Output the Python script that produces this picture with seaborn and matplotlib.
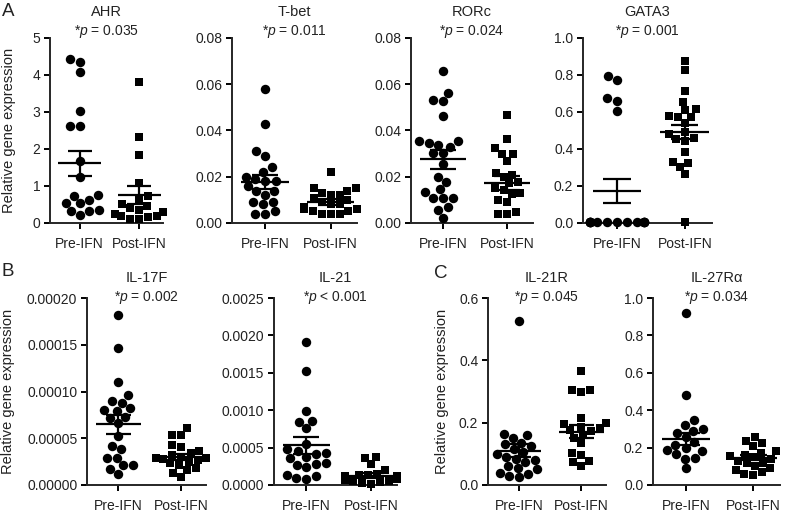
import numpy as np
import pandas as pd
import seaborn as sns
import matplotlib.pyplot as plt
import warnings
warnings.filterwarnings("ignore")

groups = ['Pre-IFN', 'Post-IFN']

genes = ['AHR', 'T-bet', 'RORc', 'GATA3', 'IL-17F', 'IL-21', 'IL-21R', 'IL-27R\u03b1']
pvals = ['= 0.035', '= 0.011', '= 0.024', '= 0.001', '= 0.002', '< 0.001', '= 0.045', '= 0.034']
ymax = [5, 0.08, 0.08, 1.0, 0.0002, 0.0025, 0.6, 1.0]
yticks = [
    [0, 1, 2, 3, 4, 5],
    [0.00, 0.02, 0.04, 0.06, 0.08],
    [0.00, 0.02, 0.04, 0.06, 0.08],
    [0.0, 0.2, 0.4, 0.6, 0.8, 1.0],
    [0.0, 0.00005, 0.0001, 0.00015, 0.0002],
    [0.0, 0.0005, 0.001, 0.0015, 0.002, 0.0025],
    [0.0, 0.2, 0.4, 0.6],
    [0.0, 0.2, 0.4, 0.6, 0.8, 1.0],
]
ytick_fmt = ['{:.0f}', '{:.2f}', '{:.2f}', '{:.1f}', '{:.5f}', '{:.4f}', '{:.1f}', '{:.1f}']

# individual values
pre_ahr = [4.42, 4.35, 4.07, 3.02, 2.62, 2.62, 1.68, 1.25, 0.75, 0.73, 0.62, 0.55, 0.53, 0.35, 0.33, 0.33, 0.22]
post_ahr = [3.8, 2.33, 1.85, 1.08, 0.72, 0.65, 0.5, 0.45, 0.4, 0.35, 0.3, 0.25, 0.2, 0.18, 0.15, 0.12, 0.1]
pre_tbet = [0.058, 0.043, 0.031, 0.029, 0.024, 0.022, 0.02, 0.019, 0.018, 0.018, 0.016, 0.014, 0.014,
            0.012, 0.009, 0.009, 0.008, 0.005, 0.004, 0.004]
post_tbet = [0.022, 0.015, 0.015, 0.014, 0.013, 0.012, 0.012, 0.011, 0.010, 0.009, 0.008, 0.008, 0.007,
             0.006, 0.006, 0.005, 0.005, 0.004, 0.004, 0.004]
pre_rorc = [0.0656, 0.0564, 0.0528, 0.053, 0.0463, 0.0356, 0.0356, 0.0347, 0.0337, 0.033, 0.0301, 0.0301,
            0.0253, 0.02, 0.0178, 0.0145, 0.0135, 0.011, 0.011, 0.0106, 0.0069, 0.0058, 0.0023]
post_rorc = [0.0467, 0.0362, 0.0323, 0.0298, 0.0298, 0.0269, 0.0217, 0.0207, 0.02, 0.0178, 0.0171, 0.0153,
             0.0142, 0.013, 0.0124, 0.0098, 0.0091, 0.0048, 0.004, 0.004]
pre_gata3 = [0.792, 0.774, 0.674, 0.662, 0.606, 0.005, 0.005, 0.005, 0.005, 0.005, 0.005, 0.005, 0.005,
             0.005, 0.005, 0.005, 0.005, 0.005, 0.005]
post_gata3 = [0.877, 0.828, 0.711, 0.656, 0.615, 0.611, 0.579, 0.575, 0.575, 0.542, 0.494, 0.479, 0.458,
              0.452, 0.445, 0.385, 0.331, 0.326, 0.304, 0.264, 0.005]
pre_il17f = [18.2, 14.6, 11.0, 9.6, 9.0, 8.8, 8.2, 8.0, 7.9, 7.3, 7.2, 6.6, 5.2, 4.2, 3.8, 2.9, 2.9, 2.1,
             2.1, 1.7, 1.2]
post_il17f = [6.1, 5.4, 5.4, 4.3, 4.1, 3.6, 3.4, 3.2, 3.0, 2.9, 2.9, 2.7, 2.5, 2.3, 2.1, 1.8, 1.6, 1.25,
              0.9, 2.8]
pre_il21 = [1.91, 1.53, 0.99, 0.86, 0.84, 0.76, 0.55, 0.48, 0.45, 0.43, 0.42, 0.38, 0.36, 0.30, 0.28,
            0.27, 0.24, 0.14, 0.12, 0.09, 0.08]
post_il21 = [0.38, 0.36, 0.28, 0.20, 0.15, 0.14, 0.13, 0.12, 0.12, 0.11, 0.10, 0.10, 0.09, 0.08, 0.07,
             0.06, 0.05, 0.04, 0.03, 0.02]
pre_il21r = [0.525, 0.163, 0.160, 0.150, 0.135, 0.130, 0.125, 0.115, 0.105, 0.1, 0.09, 0.085, 0.08, 0.075,
             0.06, 0.055, 0.05, 0.04, 0.035, 0.03, 0.025]
post_il21r = [0.367, 0.305, 0.298, 0.305, 0.216, 0.198, 0.195, 0.1875, 0.182, 0.177, 0.174, 0.161, 0.152,
              0.134, 0.102, 0.096, 0.077, 0.073, 0.062]
pre_il27ra = [0.92, 0.48, 0.345, 0.32, 0.3, 0.29, 0.28, 0.255, 0.23, 0.215, 0.2, 0.185, 0.18, 0.165, 0.145,
              0.14, 0.09]
post_il27ra = [0.255, 0.235, 0.225, 0.21, 0.18, 0.17, 0.16, 0.155, 0.15, 0.14, 0.13, 0.12, 0.115, 0.1,
               0.09, 0.08, 0.07, 0.06, 0.055]

pre_vals = [pre_ahr, pre_tbet, pre_rorc, pre_gata3, [v * 1e-5 for v in pre_il17f],
            [v * 1e-3 for v in pre_il21], pre_il21r, pre_il27ra]
post_vals = [post_ahr, post_tbet, post_rorc, post_gata3, [v * 1e-5 for v in post_il17f],
             [v * 1e-3 for v in post_il21], post_il21r, post_il27ra]

# mean and SEM bars as drawn
pre_mean = [1.61, 0.0178, 0.0275, 0.172, 6.5e-5, 0.00053, 0.110, 0.245]
pre_sem = [0.34, 0.0031, 0.0040, 0.066, 1.0e-5, 0.00011, 0.020, 0.033]
post_mean = [0.75, 0.0091, 0.0174, 0.494, 3.0e-5, 0.000125, 0.171, 0.146]
post_sem = [0.24, 0.0013, 0.0030, 0.038, 0.3e-5, 0.00003, 0.021, 0.012]

W, H = 787, 513
# axes boxes in pixels: left, right, top, bottom
boxes = [
    (50, 163, 38, 223), (232, 357, 38, 223), (411, 533, 38, 223), (583, 712, 38, 223),
    (87, 206, 298, 485), (274, 397, 298, 485), (488, 606, 298, 485), (653, 780, 298, 485),
]

sns.set_theme(style='ticks')
plt.rcParams['font.family'] = ['Liberation Sans', 'DejaVu Sans']
plt.rcParams['mathtext.fontset'] = 'custom'
plt.rcParams['mathtext.rm'] = 'Liberation Sans'
plt.rcParams['mathtext.it'] = 'Liberation Sans:italic'

fig = plt.figure(figsize=(W / 100, H / 100), dpi=100)

for i, gene in enumerate(genes):
    l, r, t, b = boxes[i]
    ax = fig.add_axes([l / W, 1 - b / H, (r - l) / W, (b - t) / H])
    df_pre = pd.DataFrame({'group': 'Pre-IFN', 'value': pre_vals[i]})
    df_post = pd.DataFrame({'group': 'Post-IFN', 'value': post_vals[i]})
    sns.swarmplot(data=df_pre, x='group', y='value', order=groups, marker='o', color='black',
                  size=6.8, linewidth=0, ax=ax, clip_on=False, zorder=3)
    sns.swarmplot(data=df_post, x='group', y='value', order=groups, marker='s', color='black',
                  size=6.2, linewidth=0, ax=ax, clip_on=False, zorder=3)
    for k, (m, s) in enumerate([(pre_mean[i], pre_sem[i]), (post_mean[i], post_sem[i])]):
        ax.hlines(m, k - 0.36, k + 0.36, color='black', lw=1.6, zorder=4)
        ax.hlines([m - s, m + s], k - 0.2, k + 0.2, color='black', lw=1.6, zorder=4)
        ax.vlines(k, m - s, m + s, color='black', lw=1.6, zorder=4)
    ax.set_xlim(-0.5, 1.4)
    ax.set_ylim(0, ymax[i])
    ax.set_yticks(yticks[i])
    ax.set_yticklabels([ytick_fmt[i].format(v) for v in yticks[i]])
    ax.set_xlabel('')
    ax.set_ylabel('')
    sns.despine(ax=ax)
    for sp in ['left', 'bottom']:
        ax.spines[sp].set_linewidth(1.4)
    ax.tick_params(width=1.4, length=4, labelsize=10, pad=3, color='black', labelcolor='#222222')
    ax.tick_params(axis='x', pad=6)
    ax.patch.set_alpha(0)

    cx = (l + r) / 2
    ty = 12 if i < 4 else 278
    py = 32 if i < 4 else 298
    fig.text(cx / W, 1 - ty / H, gene, ha='center', va='center', fontsize=10.5, color='#222222')
    fig.text(cx / W, 1 - py / H, '*$\\it{p}$ ' + pvals[i], ha='center', va='center', fontsize=10,
             color='#222222')

for lab, x, y in [('A', 8, 12), ('B', 8, 272), ('C', 441, 273)]:
    fig.text(x / W, 1 - y / H, lab, ha='center', va='center', fontsize=13.5, color='#222222')
for x, y in [(9, 130), (8, 391), (442, 391)]:
    fig.text(x / W, 1 - y / H, 'Relative gene expression', rotation=90, ha='center', va='center',
             fontsize=10.5, color='#222222')

fig.savefig('out.png', dpi=100)
